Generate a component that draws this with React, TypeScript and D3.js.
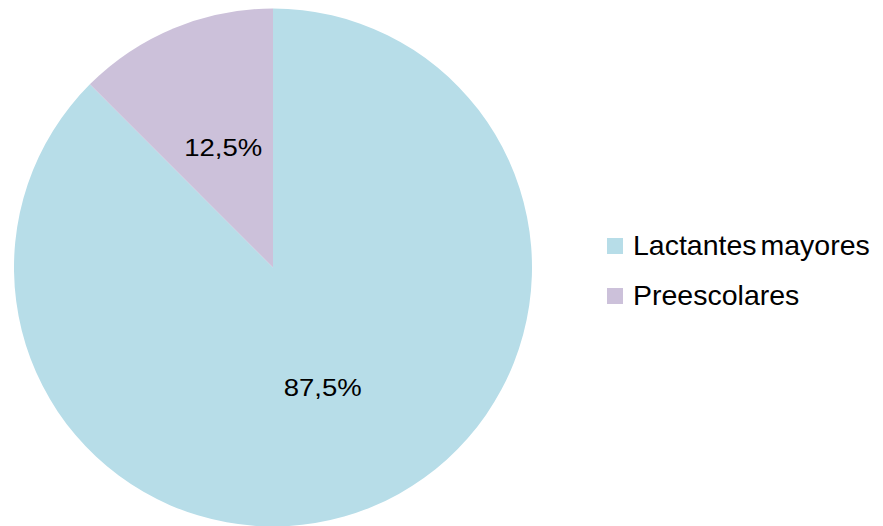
import React from "react";
import * as d3 from "d3";

const categories = ["Lactantes mayores", "Preescolares"];
const values = [87.5, 12.5];
const valueLabels = ["87,5%", "12,5%"];
const colors = ["#B7DDE8", "#CCC1DA"];

const W = 883;
const H = 526;
const cx = 273;
const cy = 267.5;
const R = 259;

export default function App() {
  const data = categories.map((c, i) => ({ name: c, value: values[i], label: valueLabels[i], color: colors[i] }));
  const pie = d3.pie<any>().sort(null).value((d) => d.value).startAngle(0).endAngle(2 * Math.PI);
  const arcs = pie(data);
  const arcGen = d3.arc<any>().innerRadius(0).outerRadius(R);
  const labelArc = d3.arc<any>().innerRadius(130).outerRadius(130);

  return (
    <svg
      width={W}
      height={H}
      style={{ position: "absolute", left: 0, top: 0, background: "#fff" }}
      fontFamily="'Liberation Sans', Arial, sans-serif"
    >
      <g transform={`translate(${cx},${cy})`}>
        {arcs.map((a, i) => (
          <path key={i} d={arcGen(a) as string} fill={a.data.color} />
        ))}
        {arcs.map((a, i) => {
          const [x, y] = labelArc.centroid(a);
          return (
            <g key={"l" + i} transform={`translate(${x},${y + 8.5}) scale(1.17,1)`}>
              <text textAnchor="middle" fontSize={23.5} fill="#000">
                {a.data.label}
              </text>
            </g>
          );
        })}
      </g>
      {data.map((d, i) => (
        <g key={"lg" + i} transform={`translate(607,${238 + i * 50})`}>
          <rect x={0} y={0} width={16} height={16} fill={d.color} />
          <text x={26} y={17} fontSize={28.5} fill="#000" wordSpacing={-4}>
            {d.name}
          </text>
        </g>
      ))}
    </svg>
  );
}
